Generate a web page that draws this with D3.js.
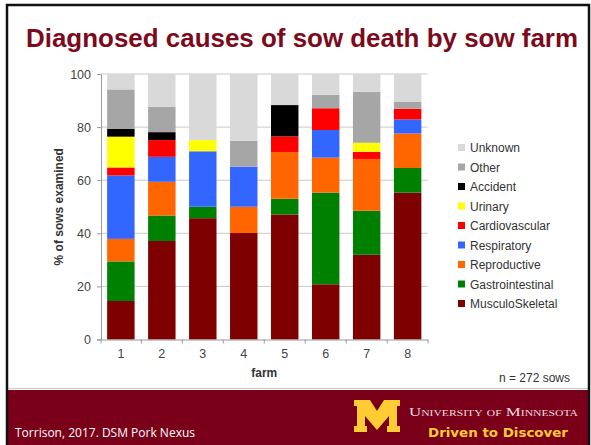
<!DOCTYPE html>
<html>
<head>
<meta charset="utf-8">
<script src="https://cdnjs.cloudflare.com/ajax/libs/d3/7.8.5/d3.min.js"></script>
<style>
  body { margin: 0; background: #fff; }
  svg { display: block; font-family: "Liberation Sans", Arial, sans-serif; }
</style>
</head>
<body>
<div class="svg"></div>
<script>
// data (% of sows examined, per farm)
var farms = ['1', '2', '3', '4', '5', '6', '7', '8'];
var causes = ['MusculoSkeletal', 'Gastrointestinal', 'Reproductive', 'Respiratory',
  'Cardiovascular', 'Urinary', 'Accident', 'Other', 'Unknown'];
var musculo   = [14.5, 37.1, 45.7, 40.1, 47.1, 20.8, 31.9, 55.3];
var gastro    = [14.9,  9.6,  4.3,  0.0,  5.9, 34.5, 16.6,  9.3];
var repro     = [ 8.5, 12.7,  0.0,  9.9, 17.6, 13.2, 19.5, 13.0];
var resp      = [23.9,  9.4, 20.9, 15.1,  0.0, 10.4,  0.0,  5.3];
var cardio    = [ 3.0,  6.3,  0.0,  0.0,  5.9,  8.2,  2.7,  4.0];
var urinary   = [11.6,  0.0,  4.2,  0.0,  0.0,  0.0,  3.4,  0.0];
var accident  = [ 3.0,  3.0,  0.0,  0.0, 11.8,  0.0,  0.0,  0.0];
var other     = [14.8,  9.6,  0.0,  9.8,  0.0,  5.1, 19.2,  2.7];
var unknown   = [ 5.8, 12.3, 24.9, 25.1, 11.7,  7.8,  6.7, 10.4];
var yTicks = [0, 20, 40, 60, 80, 100];

var colors = {
  'MusculoSkeletal': '#7f0000', 'Gastrointestinal': '#008000', 'Reproductive': '#ff6600',
  'Respiratory': '#3366ff', 'Cardiovascular': '#ff0000', 'Urinary': '#ffff00',
  'Accident': '#000000', 'Other': '#a6a6a6', 'Unknown': '#d9d9d9'
};

var series = [musculo, gastro, repro, resp, cardio, urinary, accident, other, unknown];
var rows = farms.map(function (f, i) {
  var r = { farm: f };
  causes.forEach(function (c, j) { r[c] = series[j][i]; });
  return r;
});

var W = 591, H = 445;
var svg = d3.select('div.svg').append('svg').attr('width', W).attr('height', H);

// slide title
svg.append('text')
  .attr('x', 26).attr('y', 47)
  .attr('textLength', 552).attr('lengthAdjust', 'spacingAndGlyphs')
  .style('font-size', '25px').style('font-weight', 'bold').style('fill', '#7d0a1c')
  .text('Diagnosed causes of sow death by sow farm');

var plot = { left: 101, right: 427.5, top: 74, bottom: 339.5 };

var x = d3.scaleBand().domain(farms).range([plot.left, plot.right]).paddingInner(0.33).paddingOuter(0.15);
var y = d3.scaleLinear().domain([0, 100]).range([plot.bottom, plot.top]);

// gridlines
svg.append('g').selectAll('line').data(yTicks.slice(1)).enter().append('line')
  .attr('x1', plot.left).attr('x2', plot.right)
  .attr('y1', function (d) { return y(d); }).attr('y2', function (d) { return y(d); })
  .style('stroke', '#c8c8c8').style('stroke-width', 1);

var stacked = d3.stack().keys(causes)(rows);

svg.append('g').selectAll('g').data(stacked).enter().append('g')
  .style('fill', function (d) { return colors[d.key]; })
  .selectAll('rect').data(function (d) { return d; }).enter().append('rect')
  .attr('x', function (d) { return x(d.data.farm); })
  .attr('width', x.bandwidth())
  .attr('y', function (d) { return y(d[1]); })
  .attr('height', function (d) { return y(d[0]) - y(d[1]); });

// y axis
var yAxis = svg.append('g').attr('transform', 'translate(' + plot.left + ',0)')
  .call(d3.axisLeft(y).tickValues(yTicks).tickSize(4).tickPadding(6));
yAxis.select('.domain').style('stroke', '#999');
yAxis.selectAll('.tick line').style('stroke', '#999');
yAxis.selectAll('text').style('font-size', '12.5px').style('fill', '#444')
  .style('font-family', '"Liberation Sans", Arial, sans-serif');

// x axis (labels centred, ticks between farms)
var xAxis = svg.append('g').attr('transform', 'translate(0,' + plot.bottom + ')')
  .call(d3.axisBottom(x).tickSize(0).tickPadding(10));
xAxis.select('.domain').style('stroke', '#999');
xAxis.selectAll('text').style('font-size', '12.5px').style('fill', '#444')
  .style('font-family', '"Liberation Sans", Arial, sans-serif');
var gap = (x.step() - x.bandwidth()) / 2;
xAxis.selectAll('line.sep').data(farms).enter().append('line').attr('class', 'sep')
  .attr('x1', function (d) { return x(d) + x.bandwidth() + gap; })
  .attr('x2', function (d) { return x(d) + x.bandwidth() + gap; })
  .attr('y1', 0).attr('y2', 4).style('stroke', '#999');
xAxis.append('line').attr('x1', plot.left).attr('x2', plot.left).attr('y1', 0).attr('y2', 4).style('stroke', '#999');

svg.append('text').attr('x', (plot.left + plot.right) / 2).attr('y', 377)
  .attr('text-anchor', 'middle').style('font-size', '12px').style('font-weight', 'bold').style('fill', '#333')
  .text('farm');

svg.append('text').attr('transform', 'translate(63,' + ((plot.top + plot.bottom) / 2) + ') rotate(-90)')
  .attr('text-anchor', 'middle').style('font-size', '12px').style('font-weight', 'bold').style('fill', '#333')
  .text('% of sows examined');

// legend (top = Unknown)
var legend = svg.append('g').selectAll('g').data(causes.slice().reverse()).enter().append('g')
  .attr('transform', function (d, i) { return 'translate(458,' + (147.5 + i * 19.5) + ')'; });
legend.append('rect').attr('x', 0).attr('y', -3.5).attr('width', 7).attr('height', 7)
  .style('fill', function (d) { return colors[d]; });
legend.append('text').attr('x', 12).attr('y', 4.5)
  .style('font-size', '12px').style('fill', '#333').text(function (d) { return d; });

svg.append('text').attr('x', 570).attr('y', 382).attr('text-anchor', 'end')
  .style('font-size', '12px').style('fill', '#333').text('n = 272 sows');

// footer band
svg.append('line').attr('x1', 7).attr('x2', 589).attr('y1', 388.5).attr('y2', 388.5).style('stroke', '#d9c6c9');
svg.append('rect').attr('x', 7).attr('y', 390).attr('width', 582).attr('height', 55).style('fill', '#7a0019');
svg.append('text').attr('x', 15).attr('y', 437).style('font-size', '12px').style('fill', '#fff')
  .style('font-family', '"Open Sans", "Noto Sans", sans-serif')
  .text('Torrison, 2017. DSM Pork Nexus');

// block M logo
var mPts = [[354, 400], [370, 400], [377, 411], [384, 400], [400, 400], [400, 406], [397, 406], [397, 426],
  [400, 426], [400, 432], [387, 432], [387, 426], [389, 426], [389, 416], [377, 430], [365, 416], [365, 426],
  [367, 426], [367, 432], [354, 432], [354, 426], [357, 426], [357, 406], [354, 406]];
svg.append('path').attr('d', d3.line()(mPts) + 'Z').style('fill', '#ffcc33');

svg.append('text').attr('x', 409).attr('y', 416)
  .style('font-family', '"Liberation Serif", "DejaVu Serif", serif').style('font-size', '13px')
  .style('fill', '#f0dde0').style('font-variant', 'small-caps')
  .attr('textLength', 169).attr('lengthAdjust', 'spacingAndGlyphs')
  .text('University of Minnesota');
svg.append('text').attr('x', 428).attr('y', 437)
  .style('font-size', '12px').style('font-weight', 'bold').style('fill', '#ffcc33')
  .style('font-family', '"DejaVu Sans", sans-serif')
  .attr('textLength', 140).attr('lengthAdjust', 'spacingAndGlyphs')
  .text('Driven to Discover');

// slide frame
svg.append('rect').attr('x', 7).attr('y', 5).attr('width', 582).attr('height', 450)
  .style('fill', 'none').style('stroke', '#111').style('stroke-width', 2.5);
</script>
</body>
</html>
